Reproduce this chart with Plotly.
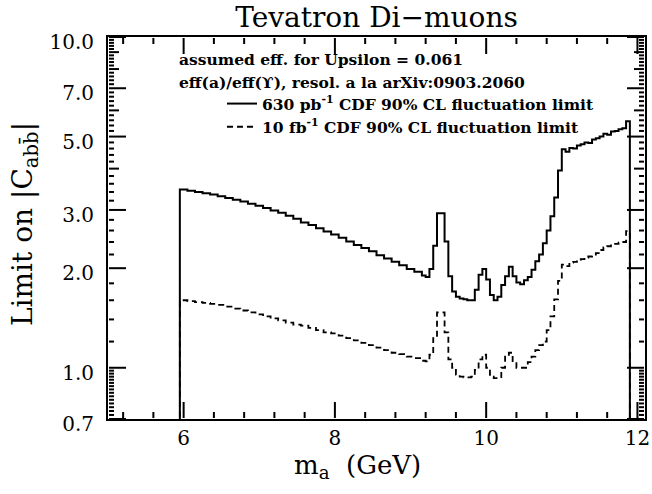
import plotly.graph_objects as go

# ---------------- data ----------------
edges_coarse = [5.95, 6.05, 6.15, 6.25, 6.35, 6.45, 6.55, 6.65, 6.75, 6.85, 6.95,
                7.05, 7.15, 7.25, 7.35, 7.45, 7.55, 7.65, 7.75, 7.85, 7.95,
                8.05, 8.15, 8.25, 8.35, 8.45, 8.55, 8.65, 8.75, 8.85, 8.95,
                9.05, 9.15]
edges_fine = [9.20, 9.25, 9.30, 9.35, 9.40, 9.45, 9.50, 9.55, 9.60, 9.65,
              9.70, 9.75, 9.80, 9.85, 9.90, 9.95, 10.00, 10.05, 10.10, 10.15,
              10.20, 10.25, 10.30, 10.35, 10.40, 10.45, 10.50, 10.55, 10.60, 10.65,
              10.70, 10.75, 10.80, 10.85, 10.90, 10.95, 11.00, 11.05, 11.10, 11.15,
              11.20, 11.25, 11.30, 11.35, 11.40, 11.45, 11.50, 11.55, 11.60, 11.65,
              11.70, 11.75, 11.80, 11.85]
edge_end = 11.90
floor_value = 0.5   # histogram returns to zero outside the range (below the plotted axis)

# 630 pb^-1 CDF 90% CL fluctuation limit
lim630_coarse = [3.46, 3.43, 3.40, 3.37, 3.34, 3.30, 3.26, 3.22, 3.18, 3.13, 3.09,
                 3.04, 2.99, 2.94, 2.88, 2.82, 2.75, 2.70, 2.64, 2.58, 2.53,
                 2.47, 2.41, 2.35, 2.30, 2.25, 2.19, 2.14, 2.09, 2.04, 1.99,
                 1.95, 1.90]
lim630_fine = [1.88, 1.99, 2.34, 2.93, 2.93, 2.41, 1.89, 1.70, 1.64, 1.62,
               1.61, 1.60, 1.60, 1.72, 1.91, 1.99, 1.85, 1.66, 1.60, 1.64,
               1.78, 1.89, 2.02, 1.89, 1.81, 1.79, 1.84, 1.88, 1.98, 2.10,
               2.20, 2.38, 2.60, 2.87, 3.27, 3.95, 4.58, 4.50, 4.62, 4.60,
               4.70, 4.74, 4.80, 4.78, 4.90, 4.94, 5.00, 5.10, 5.06, 5.18,
               5.20, 5.26, 5.30, 5.56]

# 10 fb^-1 CDF 90% CL fluctuation limit
lim10_coarse = [1.60, 1.59, 1.58, 1.57, 1.56, 1.55, 1.53, 1.51, 1.49, 1.47, 1.45,
                1.43, 1.41, 1.39, 1.37, 1.35, 1.34, 1.32, 1.30, 1.28, 1.27,
                1.25, 1.23, 1.21, 1.19, 1.17, 1.15, 1.13, 1.11, 1.10, 1.08,
                1.07, 1.05]
lim10_fine = [1.045, 1.095, 1.23, 1.47, 1.47, 1.28, 1.06, 1.00, 0.953, 0.94,
              0.935, 0.935, 0.94, 0.986, 1.06, 1.095, 1.00, 0.94, 0.93, 0.93,
              1.00, 1.08, 1.11, 1.04, 1.00, 1.00, 1.00, 1.04, 1.08, 1.13,
              1.17, 1.20, 1.30, 1.43, 1.61, 1.83, 2.05, 2.03, 2.08, 2.09,
              2.12, 2.13, 2.15, 2.17, 2.20, 2.22, 2.27, 2.31, 2.33, 2.37,
              2.37, 2.39, 2.40, 2.59]

# axis ticks
x_major = [6, 8, 10, 12]
x_minor = [5.2, 5.6, 6.4, 6.8, 7.2, 7.6, 8.4, 8.8, 9.2, 9.6, 10.4, 10.8, 11.2, 11.6]
y_major = [0.7, 1.0, 2.0, 3.0, 5.0, 7.0, 10.0]
y_major_text = ["0.7", "1.0", "2.0", "3.0", "5.0", "7.0", "10.0"]
y_medium = [4.0, 6.0, 8.0, 9.0]
y_minor = ([0.72, 0.74, 0.76, 0.78, 0.80, 0.82, 0.84, 0.86, 0.88, 0.90, 0.92, 0.94, 0.96, 0.98]
           + [1.2, 1.4, 1.6, 1.8, 2.2, 2.4, 2.6, 2.8, 3.2, 3.4, 3.6, 3.8, 4.2, 4.4, 4.6, 4.8,
              5.2, 5.4, 5.6, 5.8, 6.2, 6.4, 6.6, 6.8, 7.2, 7.4, 7.6, 7.8, 8.2, 8.4,
              8.6, 8.8, 9.2, 9.4, 9.6, 9.8])

header_lines = ["assumed eff. for Upsilon = 0.061",
                "eff(a)/eff(\u03d2), resol. a la arXiv:0903.2060"]

# ---------------- figure ----------------
edges = edges_coarse + edges_fine
x_step = [edges[0]] + edges + [edge_end]
y630 = [floor_value] + lim630_coarse + lim630_fine + [floor_value]
y10 = [floor_value] + lim10_coarse + lim10_fine + [floor_value]

SERIF = "DejaVu Serif"
L, R, T, B = 108, 7, 37, 75
W, H = 652, 494
PW, PH = W - L - R, H - T - B
XR = [5, 12.1]
YR = [-0.15490196, 1.0]


def px_x(px):
    return (px - L) / PW


def px_y(py):
    return (H - B - py) / PH


# inside tick marks on all four sides, built from the tick lists above
x_per_px = (XR[1] - XR[0]) / PW
ylog_per_px = (YR[1] - YR[0]) / PH
tick_x, tick_y = [], []
for vals, ln in ((x_major, 17), (x_minor, 7)):
    for v in vals:
        tick_x += [v, v, None, v, v, None]
        tick_y += [10 ** (YR[0] + 1 * ylog_per_px), 10 ** (YR[0] + ln * ylog_per_px), None,
                   10 ** (YR[1] - 1 * ylog_per_px), 10 ** (YR[1] - ln * ylog_per_px), None]
for vals, ln in ((y_major, 18), (y_medium, 11), (y_minor, 6)):
    for v in vals:
        tick_x += [XR[0] + 1 * x_per_px, XR[0] + ln * x_per_px, None,
                   XR[1] - 1 * x_per_px, XR[1] - ln * x_per_px, None]
        tick_y += [v, v, None, v, v, None]

fig = go.Figure()
fig.add_trace(go.Scatter(
    x=x_step, y=y630, mode="lines", line_shape="hv",
    line=dict(color="black", width=2),
    name="630 pb<sup>-1</sup> CDF 90% CL fluctuation limit"))
fig.add_trace(go.Scatter(
    x=x_step, y=y10, mode="lines", line_shape="hv",
    line=dict(color="black", width=1.8, dash="6px,4px"),
    name="10 fb<sup>-1</sup> CDF 90% CL fluctuation limit"))
fig.add_trace(go.Scatter(
    x=tick_x, y=tick_y, mode="lines", connectgaps=False,
    line=dict(color="black", width=2), showlegend=False, hoverinfo="skip",
    name="axis ticks"))

annotations = []
for i, txt in enumerate(header_lines):
    annotations.append(dict(
        text="<b>" + txt + "</b>", xref="paper", yref="paper",
        x=px_x(177), y=px_y(60 + 22 * i), xanchor="left", yanchor="middle",
        showarrow=False, font=dict(family=SERIF, size=15.5, color="black")))
annotations.append(dict(
    text="m<sub>a</sub>  (GeV)", xref="paper", yref="paper",
    x=px_x(357), y=px_y(467), xanchor="center", yanchor="middle",
    showarrow=False, font=dict(family=SERIF, size=26, color="black")))
annotations.append(dict(
    text="Limit on |C<sub>abb\u0304</sub>|", xref="paper", yref="paper",
    x=px_x(24), y=px_y(224), xanchor="center", yanchor="middle", textangle=-90,
    showarrow=False, font=dict(family=SERIF, size=28, color="black")))

fig.update_layout(
    width=W, height=H,
    margin=dict(l=L, r=R, t=T, b=B, autoexpand=False),
    paper_bgcolor="white", plot_bgcolor="white",
    font=dict(family=SERIF, color="black"),
    title=dict(text="Tevatron Di\u2212muons", x=0.5, xref="paper",
               y=1 - 17 / H, yanchor="middle",
               font=dict(family=SERIF, size=28, color="black")),
    showlegend=True,
    legend=dict(
        x=px_x(222), y=px_y(87), xanchor="left", yanchor="top",
        bgcolor="rgba(0,0,0,0)", borderwidth=0,
        font=dict(family=SERIF, size=15.5, color="black", weight="bold"),
        itemwidth=30, tracegroupgap=0,
    ),
    annotations=annotations,
    xaxis=dict(range=XR, showgrid=False, zeroline=False, automargin=False,
               showline=True, linecolor="black", linewidth=2, mirror=True,
               tickmode="array", tickvals=x_major, ticktext=[str(v) for v in x_major],
               ticks="", tickfont=dict(family=SERIF, size=20, color="black")),
    yaxis=dict(type="log", range=YR, showgrid=False, zeroline=False, automargin=False,
               showline=True, linecolor="black", linewidth=2, mirror=True,
               tickmode="array", tickvals=y_major, ticktext=y_major_text,
               ticks="", ticklabelshift=5, ticklabelstandoff=8,
               tickfont=dict(family=SERIF, size=20, color="black")),
)

fig.write_html("out.html", post_script="document.body.style.margin='0px';",
               config={"displayModeBar": False})
